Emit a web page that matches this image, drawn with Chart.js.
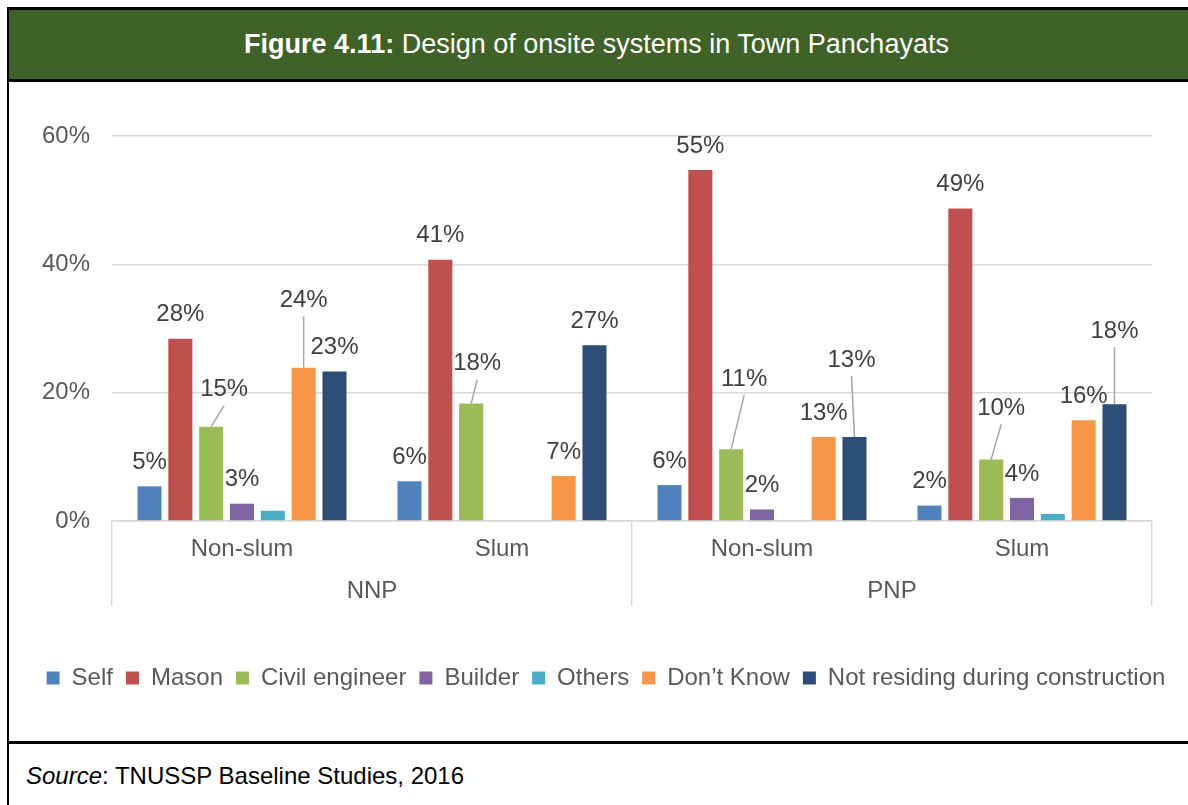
<!DOCTYPE html>
<html>
<head>
<meta charset="utf-8">
<script src="https://cdn.jsdelivr.net/npm/chart.js@4.4.1/dist/chart.umd.min.js"></script>
<style>
  body { margin: 0; background: #fff; font-family: "Liberation Sans", Arial, sans-serif; }
  #marco { position: absolute; left: 7px; top: 7px; width: 1200px; height: 830px; border-left: 2px solid #000; border-top: 3px solid #000; }
  #titulo { width: 1175px; padding-right: 5px; height: 69px; line-height: 69px; background: #3f6228; border-bottom: 3px solid #000; color: #fff; font-size: 27px; text-align: center; }
  #contenedorGrafico { position: relative; width: 1179px; height: 659px; }
  #fuente { border-top: 3px solid #000; height: 60px; padding-left: 17px; font-size: 24px; line-height: 64px; color: #000; }
</style>
</head>
<body>
<div id="marco">
  <div id="titulo"><b>Figure 4.11:</b> Design of onsite systems in Town Panchayats</div>
  <div id="contenedorGrafico"><canvas id="graficoDiseno"></canvas></div>
  <div id="fuente"><i>Source</i>: TNUSSP Baseline Studies, 2016</div>
</div>
<script>
// ===================================== Datos ==================
var categorias = ["Non-slum", "Slum", "Non-slum", "Slum"];
var grupos = ["NNP", "PNP"];
var series = ["Self", "Mason", "Civil engineer", "Builder", "Others", "Don\u2019t Know", "Not residing during construction"];
var ticksY = [0, 20, 40, 60];

var self = [5.4, 6.2, 5.6, 2.4];
var mason = [28.4, 40.7, 54.7, 48.7];
var civil = [14.7, 18.3, 11.2, 9.6];
var builder = [2.7, 0, 1.8, 3.6];
var others = [1.6, 0, 0, 1.1];
var dontKnow = [23.9, 7.0, 13.1, 15.7];
var notResiding = [23.3, 27.4, 13.1, 18.2];

var selfLbl = ["5%", "6%", "6%", "2%"];
var masonLbl = ["28%", "41%", "55%", "49%"];
var civilLbl = ["15%", "18%", "11%", "10%"];
var builderLbl = ["3%", "", "2%", "4%"];
var othersLbl = ["", "", "", ""];
var dontKnowLbl = ["24%", "7%", "13%", "16%"];
var notResidingLbl = ["23%", "27%", "13%", "18%"];

// ===================================== Colores ==================
var colores = ["#4f81bd", "#c0504d", "#9bbb59", "#8064a2", "#4bacc6", "#f79646", "#2c4d75"];
var fuente = "'Liberation Sans', Arial, sans-serif";

// etiquetas desplazadas con linea guia (serie-indice: [dx, dy])
var desplazamientos = {
  "2-0": [13, -13], "5-0": [0, -43], "2-1": [6, -16],
  "2-2": [13, -46], "6-2": [-3, -53], "2-3": [10, -27], "6-3": [0, -49]
};

var valores = [self, mason, civil, builder, others, dontKnow, notResiding];
var etiquetas = [selfLbl, masonLbl, civilLbl, builderLbl, othersLbl, dontKnowLbl, notResidingLbl];

// ===================================== Plugin: etiquetas de datos ==================
var pluginEtiquetas = {
  id: "etiquetas",
  afterDatasetsDraw(chart) {
    const ctx = chart.ctx;
    ctx.save();
    ctx.font = "24px " + fuente;
    ctx.fillStyle = "#404040";
    ctx.textAlign = "center";
    ctx.textBaseline = "middle";
    chart.data.datasets.forEach((ds, i) => {
      chart.getDatasetMeta(i).data.forEach((bar, j) => {
        const txt = etiquetas[i][j];
        if (!txt) return;
        const d = desplazamientos[i + "-" + j] || [0, 0];
        const x = bar.x + d[0];
        const y = bar.y - 24 + d[1];
        if (desplazamientos[i + "-" + j]) {
          ctx.strokeStyle = "#a6a6a6";
          ctx.lineWidth = 1.5;
          ctx.beginPath();
          ctx.moveTo(x, y + 16);
          ctx.lineTo(bar.x, bar.y);
          ctx.stroke();
        }
        ctx.fillText(txt, x, y);
      });
    });
    ctx.restore();
  }
};

var datasets = series.map((nombre, i) => ({
  label: nombre,
  data: valores[i],
  backgroundColor: colores[i],
  borderWidth: 0,
  barPercentage: 0.78,
  categoryPercentage: 0.83
}));

new Chart(document.getElementById("graficoDiseno"), {
  type: "bar",
  data: { labels: categorias, datasets },
  plugins: [pluginEtiquetas],
  options: {
    responsive: true,
    maintainAspectRatio: false,
    animation: false,
    layout: { padding: { top: 54, left: 15, right: 0, bottom: 41 } },
    scales: {
      y: {
        min: 0,
        max: ticksY[ticksY.length - 1],
        afterBuildTicks: s => { s.ticks = ticksY.map(v => ({ value: v })); },
        afterFit: s => { s.width = 88; },
        ticks: { callback: v => v + "%", font: { size: 24, family: fuente }, color: "#595959", padding: 22 },
        grid: { color: "#d9d9d9", lineWidth: 1.5, drawTicks: false },
        border: { display: false }
      },
      yDer: {
        position: "right",
        afterFit: s => { s.width = 36; },
        ticks: { display: false },
        grid: { display: false },
        border: { display: false }
      },
      x: {
        weight: 0,
        afterFit: s => { s.height = 42; },
        ticks: { font: { size: 24, family: fuente }, color: "#595959", padding: -28.4 },
        grid: {
          offset: true,
          drawOnChartArea: false,
          tickLength: 42,
          lineWidth: 1.5,
          color: c => (c.index === 1 || c.index === 3) ? "rgba(0,0,0,0)" : "#d9d9d9"
        },
        border: { display: true, color: "#d9d9d9", width: 1.5 }
      },
      x2: {
        type: "category",
        labels: grupos,
        position: "bottom",
        weight: 1,
        offset: true,
        afterFit: s => { s.height = 90; },
        ticks: { font: { size: 24, family: fuente }, color: "#595959", padding: -29.4 },
        grid: { offset: true, drawOnChartArea: false, tickLength: 43, lineWidth: 1.5, color: "#d9d9d9" },
        border: { display: false }
      }
    },
    plugins: {
      legend: {
        position: "bottom",
        labels: { boxWidth: 13, boxHeight: 13, padding: 13, color: "#595959", font: { size: 24, family: fuente } }
      },
      tooltip: { enabled: false }
    }
  }
});
</script>
</body>
</html>
